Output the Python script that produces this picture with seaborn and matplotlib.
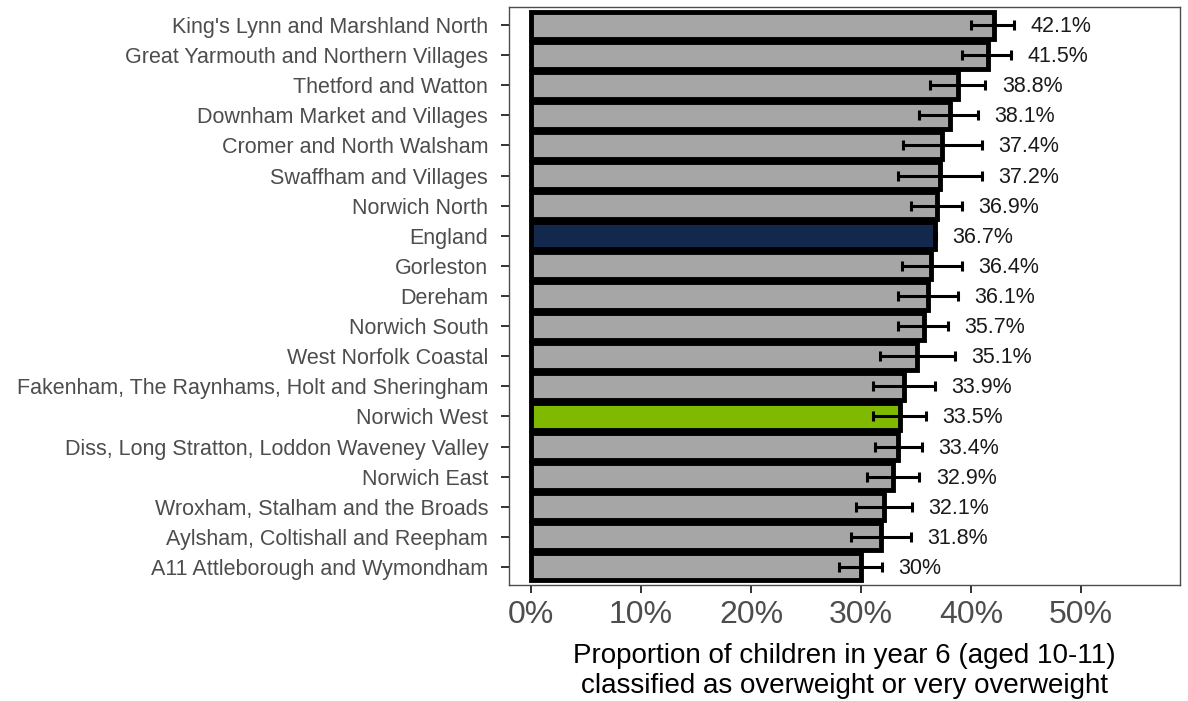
import pandas as pd
import matplotlib
matplotlib.use("Agg")
import matplotlib.pyplot as plt
import seaborn as sns
from matplotlib.ticker import FuncFormatter

areas = [
    "King's Lynn and Marshland North",
    "Great Yarmouth and Northern Villages",
    "Thetford and Watton",
    "Downham Market and Villages",
    "Cromer and North Walsham",
    "Swaffham and Villages",
    "Norwich North",
    "England",
    "Gorleston",
    "Dereham",
    "Norwich South",
    "West Norfolk Coastal",
    "Fakenham, The Raynhams, Holt and Sheringham",
    "Norwich West",
    "Diss, Long Stratton, Loddon Waveney Valley",
    "Norwich East",
    "Wroxham, Stalham and the Broads",
    "Aylsham, Coltishall and Reepham",
    "A11 Attleborough and Wymondham",
]
values = [42.1, 41.5, 38.8, 38.1, 37.4, 37.2, 36.9, 36.7, 36.4, 36.1,
          35.7, 35.1, 33.9, 33.5, 33.4, 32.9, 32.1, 31.8, 30.0]
lower_ci = [40.0, 39.2, 36.3, 35.3, 33.8, 33.4, 34.5, 36.6, 33.7, 33.4,
            33.4, 31.7, 31.1, 31.1, 31.3, 30.5, 29.5, 29.1, 28.0]
upper_ci = [43.9, 43.6, 41.3, 40.6, 41.0, 41.0, 39.2, 36.8, 39.2, 38.8,
            37.9, 38.5, 36.7, 35.9, 35.5, 35.3, 34.6, 34.5, 31.9]
labels = ["42.1%", "41.5%", "38.8%", "38.1%", "37.4%", "37.2%", "36.9%", "36.7%",
          "36.4%", "36.1%", "35.7%", "35.1%", "33.9%", "33.5%", "33.4%", "32.9%",
          "32.1%", "31.8%", "30%"]

df = pd.DataFrame({"area": areas, "value": values, "lower": lower_ci, "upper": upper_ci})

palette = {a: "#A6A6A6" for a in areas}
palette["England"] = "#12284C"
palette["Norwich West"] = "#7FBA00"

sns.set_style("white")
plt.rcParams["font.family"] = ["Liberation Sans", "DejaVu Sans"]

fig = plt.figure(figsize=(11.88, 7.01), dpi=100)
ax = fig.add_axes([509 / 1188, 1 - 585 / 701, (1180 - 509) / 1188, (585 - 7) / 701])

sns.barplot(data=df, y="area", x="value", hue="area", palette=palette, orient="h",
            width=0.9, edgecolor="black", linewidth=3.5, saturation=1,
            legend=False, ax=ax)

ax.errorbar(df["value"], range(len(df)),
            xerr=[df["value"] - df["lower"], df["upper"] - df["value"]],
            fmt="none", ecolor="black", elinewidth=2.2, capsize=3.5, capthick=2.2)

for i, row in df.iterrows():
    ax.text(row["upper"] + 1.5, i + 0.05, labels[i], ha="left", va="center",
            fontsize=15.5, color="#1a1a1a")

ax.set_xlim(-2, 59)
ax.set_ylim(len(df) - 0.4, -0.6)
ax.set_xticks([0, 10, 20, 30, 40, 50])
ax.xaxis.set_major_formatter(FuncFormatter(lambda v, p: f"{v:.0f}%"))
ax.set_ylabel("")
ax.set_xlabel("Proportion of children in year 6 (aged 10-11)\nclassified as overweight or very overweight",
              fontsize=20, color="black", labelpad=9, linespacing=1.2)

ax.tick_params(axis="x", labelsize=23, labelcolor="#4D4D4D", length=6, width=1.4,
               color="#333333", pad=5, bottom=True)
ax.tick_params(axis="y", labelsize=15.5, labelcolor="#4D4D4D", length=5.5, width=1.4,
               color="#333333", pad=9.5, left=True)

for s in ax.spines.values():
    s.set_color("#4D4D4D")
    s.set_linewidth(1.0)
    s.set_visible(True)

fig.savefig("out.png", dpi=100)
